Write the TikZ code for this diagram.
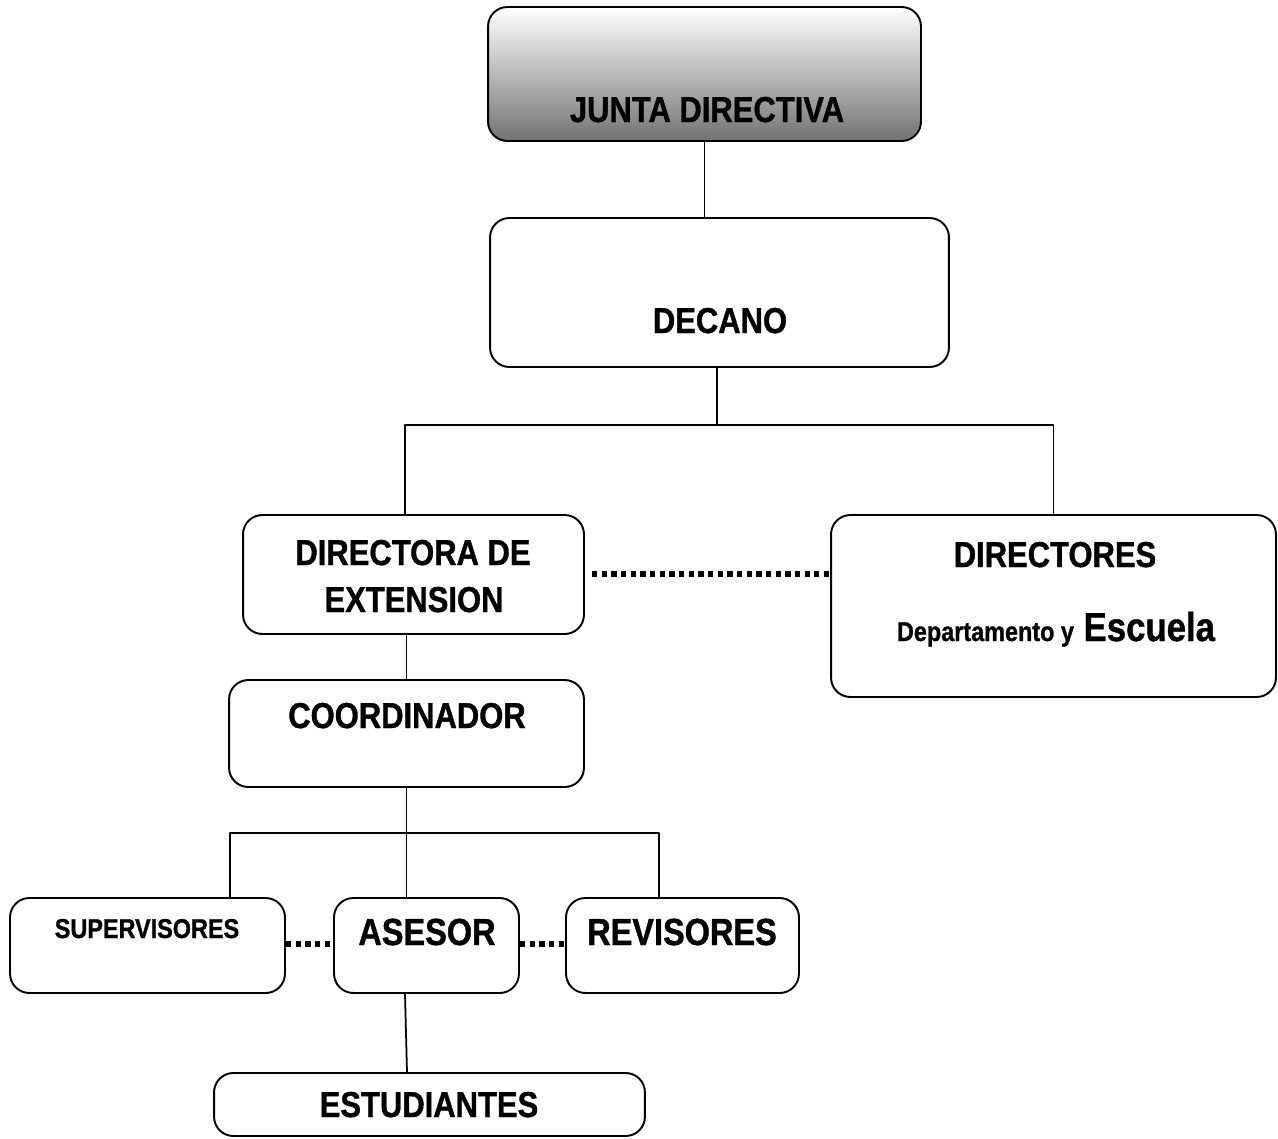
\documentclass[tikz,border=0pt]{standalone}
\usepackage{fontspec}
\newfontfamily\cond[FakeStretch=0.86,FakeBold=1]{Liberation Sans}
\begin{document}
\begin{tikzpicture}[x=0.02cm,y=-0.02cm,line join=round,
		box/.style={draw,rounded corners=11pt,line width=1.1pt,inner sep=0pt},
		lbl/.style={anchor=base,inner sep=0pt,font=\cond\bfseries\fontsize{20.5}{24}\selectfont},
		lnk/.style={line width=1pt},
		dots/.style={line width=3pt,dash pattern=on 3pt off 2.5pt}]
			\useasboundingbox (0,0) rectangle (1278,1139);
			\node[box,minimum width=8.66cm,minimum height=2.68cm,top color=white,middle color=black!12,bottom color=black!55] (junta) at (704.5,74) {};
			\node[box,minimum width=9.18cm,minimum height=2.98cm] (decano) at (719.5,292.5) {};
			\node[box,minimum width=6.82cm,minimum height=2.38cm] (directora) at (413.5,574.5) {};
			\node[box,minimum width=8.9cm,minimum height=3.64cm] (directores) at (1053.5,606) {};
			\node[box,minimum width=7.1cm,minimum height=2.14cm] (coordinador) at (406.5,733.5) {};
			\node[box,minimum width=5.5cm,minimum height=1.9cm] (supervisores) at (147.5,945.5) {};
			\node[box,minimum width=3.7cm,minimum height=1.9cm] (asesor) at (426.5,945.5) {};
			\node[box,minimum width=4.66cm,minimum height=1.9cm] (revisores) at (682.5,945.5) {};
			\node[box,minimum width=8.62cm,minimum height=1.26cm] (estudiantes) at (429.5,1104.5) {};
			\coordinate (bdec) at (717,425);
			\coordinate (bcoo) at (407,833);
			\draw[lnk] (junta.south) -- (junta.south |- decano.north);
			\draw[lnk] (decano.south -| bdec) -- (bdec);
			\draw[lnk] (directora.north -| 405,0) |- (bdec) -| (directores.north);
			\draw[lnk] (coordinador.north) -- (coordinador.north |- directora.south);
			\draw[lnk] (coordinador.south) -- (coordinador.south |- asesor.north);
			\draw[lnk] (supervisores.north -| 230,0) |- (bcoo) -| (revisores.north -| 659,0);
			\draw[lnk] (asesor.south -| 405,0) -- (estudiantes.north -| 407,0);
			\draw[dots,shorten <=4pt] (directora.east |- 0,574) -- (directores.west |- 0,574);
			\draw[dots] (supervisores.east |- 0,944) -- (asesor.west |- 0,944);
			\draw[dots] (asesor.east |- 0,944) -- (revisores.west |- 0,944);
			\node[lbl] (tjunta) at (707,122) {JUNTA DIRECTIVA};
			\node[lbl] (tdecano) at (720,333) {DECANO};
			\node[lbl] (tdirectora) at (413,565) {DIRECTORA DE};
			\node[lbl] (textension) at (414,612) {EXTENSION};
			\node[lbl] (tdirectores) at (1055,567) {DIRECTORES};
			\node[lbl,font=\cond\bfseries\fontsize{23}{26}\selectfont] (tdepto) at (1056,641) {{\fontsize{15.5}{18}\selectfont Departamento y} Escuela};
			\node[lbl] (tcoordinador) at (407,728) {COORDINADOR};
			\node[lbl,font=\cond\bfseries\fontsize{15.5}{18}\selectfont] (tsupervisores) at (147,938) {SUPERVISORES};
			\node[lbl,font=\cond\bfseries\fontsize{21.5}{24}\selectfont] (tasesor) at (427,945) {ASESOR};
			\node[lbl,font=\cond\bfseries\fontsize{21.5}{24}\selectfont] (trevisores) at (682,945) {REVISORES};
			\node[lbl] (testudiantes) at (429,1117) {ESTUDIANTES};
\end{tikzpicture}
\end{document}
